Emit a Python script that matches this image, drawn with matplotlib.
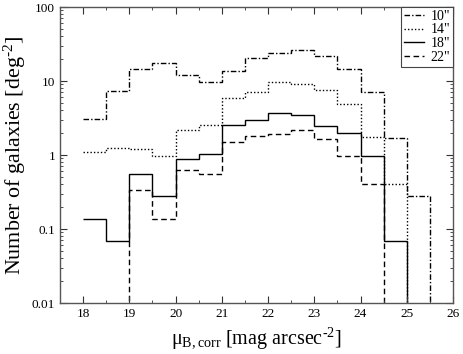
import numpy as np
import matplotlib
matplotlib.use("Agg")
import matplotlib.pyplot as plt
from matplotlib.ticker import LogLocator, NullFormatter, FixedLocator, MultipleLocator

# bin edges (mag arcsec^-2)
edges = [18.0, 18.5, 19.0, 19.5, 20.0, 20.5, 21.0, 21.5, 22.0, 22.5,
         23.0, 23.5, 24.0, 24.5, 25.0, 25.5, 26.0]

ap10 = [3.05, 7.4, 14.6, 17.4, 12.2, 9.7, 13.8, 20.6, 24.0, 26.2,
        21.7, 14.6, 7.0, 1.68, 0.275, 0.0]
ap14 = [1.1, 1.25, 1.2, 0.97, 2.17, 2.54, 5.9, 7.0, 9.7, 9.1,
        7.5, 4.9, 1.76, 0.41, 0.0, 0.0]
ap18 = [0.138, 0.069, 0.55, 0.276, 0.89, 1.02, 2.54, 2.97, 3.66, 3.47,
        2.49, 2.0, 0.96, 0.068, 0.0, 0.0]
ap22 = [0.0, 0.0, 0.34, 0.136, 0.62, 0.55, 1.5, 1.8, 1.93, 2.15,
        1.62, 0.97, 0.41, 0.0, 0.0, 0.0]

labels = ['10"', '14"', '18"', '22"']
styles = [(0, (4, 1.5, 1, 1.5)), (0, (1, 1.5)), '-', (0, (4, 2.5))]

plt.rcParams['font.family'] = ['Liberation Serif', 'DejaVu Serif']
plt.rcParams['mathtext.fontset'] = 'custom'
plt.rcParams['mathtext.rm'] = 'Liberation Serif'
plt.rcParams['mathtext.it'] = 'Liberation Serif'

fig = plt.figure(figsize=(4.63, 3.54), dpi=100)
ax = fig.add_axes([60/463, 1-303/354, (453-60)/463, (303-7)/354])

for vals, lab, ls in zip([ap10, ap14, ap18, ap22], labels, styles):
    v = np.asarray(vals, dtype=float)
    v = np.where(v > 0, v, 1e-6)
    ax.stairs(v, edges, baseline=None, color='black', linestyle=ls,
              linewidth=1.0, label=lab)

ax.set_yscale('log')
ax.set_xlim(17.5, 26)
ax.set_ylim(0.01, 100)
ax.xaxis.set_major_locator(MultipleLocator(1))
ax.xaxis.set_minor_locator(MultipleLocator(0.5))
ax.yaxis.set_major_locator(FixedLocator([0.01, 0.1, 1, 10, 100]))
ax.yaxis.set_minor_locator(LogLocator(base=10, subs=np.arange(2, 10)))
ax.yaxis.set_minor_formatter(NullFormatter())
ax.set_yticklabels(['0.01', '0.1', '1', '10', '100'])
ax.tick_params(which='both', direction='in', top=True, right=True,
               labelsize=9.5, colors='#333333', labelcolor='black')
ax.tick_params(which='major', length=5, width=0.8)
ax.tick_params(which='minor', length=2.5, width=0.6)
for s in ax.spines.values():
    s.set_color('#555555')
    s.set_linewidth(1.0)

ax.set_xlabel('$\\mathrm{\\mu_{B,corr}}$ [mag arcsec$^{\\mathrm{\u20102}}$]',
              fontsize=14.5, labelpad=4)
ax.set_ylabel('Number of galaxies [deg$^{\\mathrm{\u20102}}$]',
              fontsize=15.8, labelpad=3)

leg = ax.legend(loc='upper right', borderaxespad=0, fontsize=10,
                handlelength=1.4, handletextpad=0.5, labelspacing=0.05,
                borderpad=0.2, fancybox=False, framealpha=1)
leg.get_frame().set_edgecolor('#444444')
leg.get_frame().set_linewidth(0.8)

fig.savefig('out.png', dpi=100)
